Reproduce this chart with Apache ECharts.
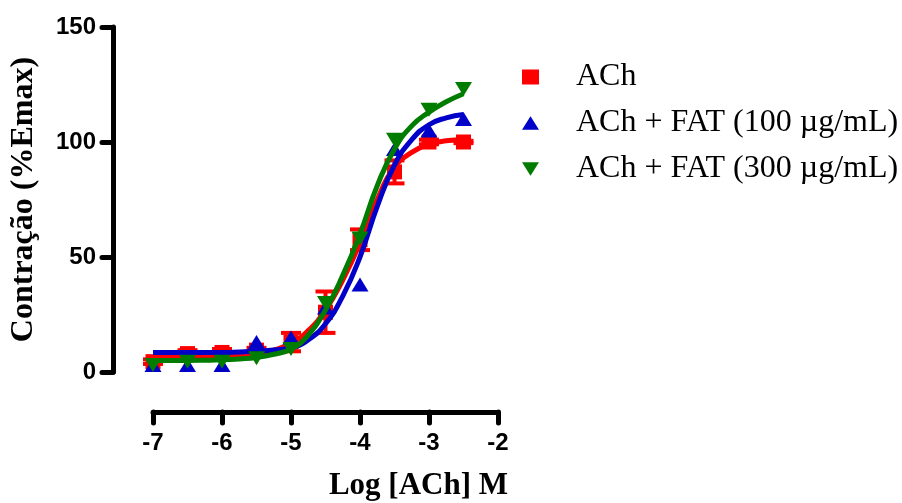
<!DOCTYPE html>
<html>
<head>
<meta charset="utf-8">
<script src="https://cdn.jsdelivr.net/npm/echarts@6/dist/echarts.min.js"></script>
<style>
  html, body { margin: 0; padding: 0; background: #fff; }
  #chart { width: 902px; height: 503px; }
</style>
</head>
<body>
<div id="chart"></div>
<script>
// Concentrations (log M) at which responses were measured
const logConc = [-7, -6.5, -6, -5.5, -5, -4.5, -4, -3.5, -3, -2.5];

// Mean contraction (% Emax) per group
const achMean    = [4.5, 8, 8.5, 9.5, 13, 26, 57.5, 87, 100, 100];
const achErr     = [1, 1.5, 1.5, 1, 4, 9, 4.5, 5, 1, 0.5];
const fat100Mean = [3, 3, 3, 13, 15, 28, 38, 97, 105, 110];
const fat300Mean = [3, 4.5, 4.5, 6, 10, 30, 58, 101, 114, 123];

// Fitted concentration-response curves, sampled every 0.25 log units
const curveX    = [-7, -6.75, -6.5, -6.25, -6, -5.75, -5.5, -5.25, -5, -4.75, -4.5, -4.25, -4, -3.75, -3.5, -3.25, -3, -2.75, -2.5];
const achFit    = [7, 7, 7, 7.1, 7.2, 7.5, 8, 9.5, 12.5, 18, 27, 40, 56, 75, 89, 95.5, 99, 100.5, 101];
const fat100Fit = [8.5, 8.5, 8.5, 8.5, 8.5, 8.7, 9, 9.6, 10.5, 14, 21, 33, 50, 72, 90, 101, 107.5, 110.5, 112];
const fat300Fit = [5, 5, 5, 5.1, 5.3, 5.7, 6.3, 7.7, 10, 16, 27, 42, 60, 81, 97, 107, 113, 117.5, 121];

// Axis ticks
const xTicks = [-7, -6, -5, -4, -3, -2];
const yTicks = [0, 50, 100, 150];

const seriesNames = ['ACh', 'ACh + FAT (100 µg/mL)', 'ACh + FAT (300 µg/mL)'];
const colors = ['#ff0000', '#0000c8', '#007d00'];
const downTriangle = 'path://M0,0 L10,0 L5,8 Z';
const upTriangle = 'path://M5,0 L10,8 L0,8 Z';

const pair = (xs, ys) => xs.map((x, i) => [x, ys[i]]);

const chart = echarts.init(document.getElementById('chart'), null, { renderer: 'canvas' });

const tickFont = { fontFamily: 'Liberation Sans, Arial, sans-serif', fontWeight: 'bold', fontSize: 24, color: '#000' };
const titleFont = 'Liberation Serif, Times New Roman, serif';
const axisStroke = { color: '#000', width: 5, cap: 'round' };

function fitLine(name, ys, color, z) {
  return {
    type: 'line', name: name, data: pair(curveX, ys), smooth: 0.5,
    showSymbol: false, silent: true,
    lineStyle: { color: color, width: 5 }, z: z
  };
}

chart.setOption({
  animation: false,
  backgroundColor: '#fff',
  grid: { left: 153, right: 404, top: 27, bottom: 131, containLabel: false },
  xAxis: {
    type: 'value',
    min: -7, max: -2, interval: 1,
    offset: 40,
    axisLine: { show: true, onZero: false, lineStyle: axisStroke },
    axisTick: { show: true, length: 11, lineStyle: axisStroke },
    axisLabel: Object.assign({ margin: 19, formatter: v => xTicks.includes(v) ? String(v) : '' }, tickFont),
    splitLine: { show: false }
  },
  yAxis: {
    type: 'value',
    min: 0, max: 150, interval: 50,
    offset: 40,
    name: 'Contração (%Emax)',
    nameLocation: 'middle',
    nameGap: 73,
    nameTextStyle: { fontFamily: titleFont, fontWeight: 'bold', fontSize: 32, color: '#000' },
    axisLine: { show: true, onZero: false, lineStyle: axisStroke },
    axisTick: { show: true, length: 11, lineStyle: axisStroke },
    axisLabel: Object.assign({ margin: 17, formatter: v => yTicks.includes(v) ? String(v) : '' }, tickFont),
    splitLine: { show: false }
  },
  legend: {
    orient: 'vertical',
    left: 517,
    top: 56,
    itemWidth: 17,
    itemHeight: 15,
    itemGap: 14,
    data: seriesNames,
    textStyle: {
      fontFamily: titleFont, fontSize: 32, color: '#000',
      lineHeight: 31, padding: [0, 0, 0, 32]
    }
  },
  graphic: [{
    type: 'text',
    right: 394,
    top: 470,
    style: {
      text: 'Log [ACh] M',
      font: 'bold 31px ' + titleFont,
      fill: '#000'
    }
  }],
  series: [
    fitLine('fitACh', achFit, colors[0], 2),
    fitLine('fit100', fat100Fit, colors[1], 4),
    fitLine('fit300', fat300Fit, colors[2], 6),
    // error bars for ACh
    {
      type: 'custom', name: 'errACh', z: 1, silent: true,
      data: logConc.map((x, i) => [x, achMean[i], achErr[i]]),
      renderItem: function (params, api) {
        const x = api.value(0), m = api.value(1), e = api.value(2);
        const hi = api.coord([x, m + e]);
        const lo = api.coord([x, m - e]);
        const w = 10;
        const style = { stroke: colors[0], lineWidth: 4 };
        return {
          type: 'group',
          children: [
            { type: 'line', shape: { x1: hi[0], y1: hi[1], x2: lo[0], y2: lo[1] }, style },
            { type: 'line', shape: { x1: hi[0] - w, y1: hi[1], x2: hi[0] + w, y2: hi[1] }, style },
            { type: 'line', shape: { x1: lo[0] - w, y1: lo[1], x2: lo[0] + w, y2: lo[1] }, style }
          ]
        };
      }
    },
    // mean points
    { type: 'scatter', name: seriesNames[0], data: pair(logConc, achMean), symbol: 'rect', symbolSize: 15,
      itemStyle: { color: colors[0], opacity: 1 }, z: 3 },
    { type: 'scatter', name: seriesNames[1], data: pair(logConc, fat100Mean), symbol: upTriangle, symbolSize: [17, 14],
      itemStyle: { color: colors[1], opacity: 1 }, z: 5 },
    { type: 'scatter', name: seriesNames[2], data: pair(logConc, fat300Mean), symbol: downTriangle, symbolSize: [17, 14],
      itemStyle: { color: colors[2], opacity: 1 }, z: 7 }
  ]
});
</script>
</body>
</html>
